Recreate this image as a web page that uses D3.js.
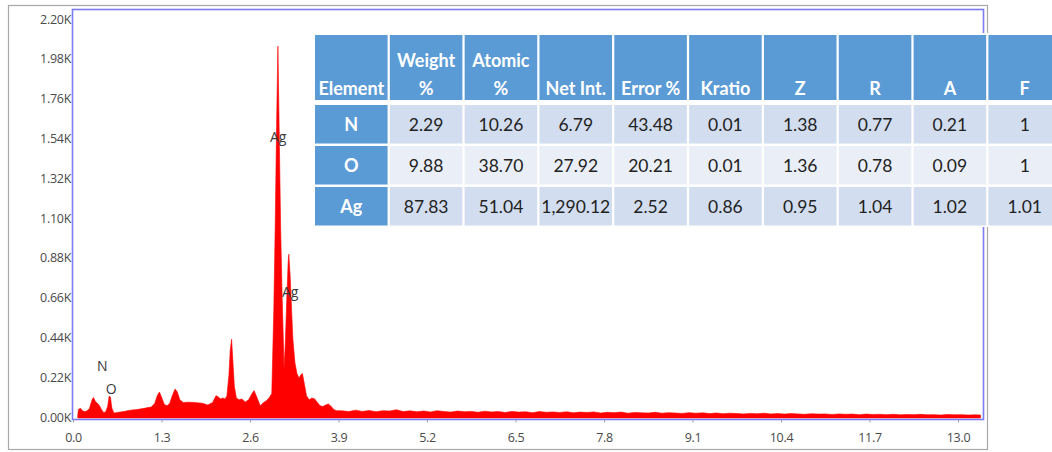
<!DOCTYPE html>
<html><head><meta charset="utf-8">
<script src="https://cdn.jsdelivr.net/npm/d3@7"></script>
<style>body{margin:0;background:#fff;} svg{display:block}</style>
</head><body>
<svg id="c" width="1052" height="452"></svg>
<script>
// ---------- data ----------
const yTicks = [0, 220, 440, 660, 880, 1100, 1320, 1540, 1760, 1980, 2200];
const yTickLabels = ["0.00K","0.22K","0.44K","0.66K","0.88K","1.10K","1.32K","1.54K","1.76K","1.98K","2.20K"];
const xTicks = [0, 1.3, 2.6, 3.9, 5.2, 6.5, 7.8, 9.1, 10.4, 11.7, 13.0];
const xTickLabels = ["0.0","1.3","2.6","3.9","5.2","6.5","7.8","9.1","10.4","11.7","13.0"];

const spectrumKeV = [
 0.07,0.08,0.11,0.14,0.17,0.20,0.24,0.28,0.30,0.33,0.36,0.39,0.42,0.45,0.48,0.51,0.53,0.55,0.57,0.60,
 0.65,0.70,0.75,0.80,0.85,0.90,0.95,1.00,1.05,1.10,1.15,1.20,1.24,1.27,1.30,1.34,1.38,1.42,1.46,1.50,
 1.53,1.57,1.62,1.70,1.79,1.90,1.98,2.05,2.10,2.13,2.17,2.20,2.23,2.26,2.29,2.31,2.33,2.35,2.37,2.40,
 2.44,2.48,2.53,2.58,2.63,2.66,2.70,2.75,2.80,2.84,2.88,2.92,2.95,2.97,2.99,3.01,3.03,3.05,3.07,3.09,
 3.10,3.12,3.14,3.16,3.17,3.19,3.21,3.23,3.26,3.29,3.32,3.35,3.37,3.40,3.43,3.47,3.51,3.55,3.59,3.63,
 3.67,3.71,3.75,3.79,3.83,3.87,
 3.95,4.05,4.15,4.25,4.35,4.45,4.55,4.65,4.75,4.85,4.95,5.05,5.15,5.25,5.35,5.45,5.55,5.65,5.75,5.85,
 5.95,6.05,6.15,6.25,6.35,6.45,6.55,6.65,6.75,6.85,6.95,7.05,7.15,7.25,7.35,7.45,7.55,7.65,7.75,7.85,
 7.95,8.05,8.15,8.25,8.35,8.45,8.55,8.65,8.75,8.85,8.95,9.05,9.15,9.25,9.35,9.45,9.55,9.65,9.75,9.85,
 9.95,10.05,10.15,10.25,10.35,10.45,10.55,10.65,10.75,10.85,10.95,11.05,11.15,11.25,11.35,11.45,11.55,11.65,11.75,11.85,
 11.95,12.05,12.15,12.25,12.35,12.45,12.55,12.65,12.75,12.85,12.95,13.05,13.15,13.25,13.33
];
const spectrumCounts = [
 10,42,48,35,30,33,45,95,108,85,75,62,40,25,28,60,115,110,50,22,
 25,28,30,35,38,40,42,45,48,52,55,75,120,138,110,70,62,75,120,155,
 140,95,80,82,80,76,66,80,118,112,100,105,100,115,230,370,430,300,170,105,
 95,100,83,95,130,146,110,62,80,90,105,130,600,1050,1600,2050,1550,1050,700,420,
 265,420,650,850,900,780,600,430,300,240,215,235,240,180,118,95,105,100,80,62,
 58,66,72,60,42,35,
 34,30,38,31,36,29,35,33,40,30,34,29,33,28,35,30,27,33,29,31,
 26,32,28,30,25,31,27,29,24,30,26,28,25,29,23,27,25,28,22,26,
 24,27,21,25,23,22,26,21,24,22,20,24,21,23,19,22,18,21,19,17,
 20,18,21,17,19,16,19,17,15,18,16,17,14,17,15,16,13,16,14,15,
 13,15,12,14,13,15,12,13,11,14,12,13,11,12,11
];

const peakLabels = ["N", "O", "Ag", "Ag"];
const peakLabelKeV = [0.43, 0.56, 3.015, 3.19];
const peakLabelCounts = [287, 160, 1550, 693];

const tableHeaders = [["Element"],["Weight","%"],["Atomic","%"],["Net Int."],["Error %"],["Kratio"],["Z"],["R"],["A"],["F"]];
const elements = ["N", "O", "Ag"];
const weightPct = [2.29, 9.88, 87.83];
const atomicPct = [10.26, 38.70, 51.04];
const netInt = [6.79, 27.92, 1290.12];
const errorPct = [43.48, 20.21, 2.52];
const kratio = [0.01, 0.01, 0.86];
const zCorr = [1.38, 1.36, 0.95];
const rCorr = [0.77, 0.78, 1.04];
const aCorr = [0.21, 0.09, 1.02];
const fCorr = [1, 1, 1.01];

// ---------- drawing ----------
const svg = d3.select("#c");
const font = "'Open Sans', 'DejaVu Sans', sans-serif";

// outer frame
svg.append("rect").attr("x", 8.5).attr("y", 5.5).attr("width", 979).attr("height", 444)
  .attr("fill", "#fff").attr("stroke", "#a8a8a8").attr("stroke-width", 1.2);

const x = d3.scaleLinear().domain([0, 13]).range([73, 958]);
const y = d3.scaleLinear().domain([0, 2200]).range([417, 19]);

// spectrum
const pts = spectrumKeV.map((k, i) => [k, spectrumCounts[i]]);
const area = d3.area().x(d => x(d[0])).y0(y(0) + 1).y1(d => y(d[1])).curve(d3.curveLinear);
svg.append("path").datum(pts).attr("d", area).attr("fill", "#ff0000").attr("stroke", "#ff0000").attr("stroke-width", 0.6);

// plot border
svg.append("rect").attr("x", 72.5).attr("y", 9.5).attr("width", 911).attr("height", 410)
  .attr("fill", "none").attr("stroke", "#7b7bf6").attr("stroke-width", 1.6);

// y axis
const yAxis = svg.append("g").attr("transform", "translate(72,0)")
  .call(d3.axisLeft(y).tickValues(yTicks).tickFormat((d, i) => yTickLabels[i]).tickSize(0).tickPadding(1));
yAxis.select(".domain").remove();
yAxis.selectAll("text").attr("font-family", font).attr("font-size", 12.5).attr("fill", "#4a4a4a").attr("letter-spacing", -0.3);

// x axis
const xAxis = svg.append("g").attr("transform", "translate(0,419.5)")
  .call(d3.axisBottom(x).tickValues(xTicks).tickFormat((d, i) => xTickLabels[i]).tickSize(3).tickPadding(11));
xAxis.select(".domain").remove();
xAxis.selectAll("line").attr("stroke", "#9a9ab0");
xAxis.selectAll("text").attr("font-family", font).attr("font-size", 12.5).attr("fill", "#4a4a4a").attr("letter-spacing", -0.3);

// peak labels
svg.append("g").selectAll("text").data(peakLabels).join("text")
  .attr("x", (d, i) => x(peakLabelKeV[i])).attr("y", (d, i) => y(peakLabelCounts[i]))
  .attr("text-anchor", "middle").attr("dominant-baseline", "central")
  .attr("font-family", font).attr("font-size", 14).attr("fill", "#3a3a3a")
  .text(d => d);

// ---------- table ----------
const tfont = "Lato, 'Open Sans', sans-serif";
const colX = d3.scaleBand().domain(d3.range(tableHeaders.length)).range([315, 1061]).paddingInner(0.03);
const rowY = d3.scaleBand().domain(d3.range(elements.length)).range([105, 225.5]).paddingInner(0.06);
const headTop = 35, headBottom = 100;

const tbl = svg.append("g");
tbl.append("rect").attr("x", 313).attr("y", 33).attr("width", 760).attr("height", 194).attr("fill", "#fff");

// header
const hd = tbl.selectAll("g.h").data(tableHeaders).join("g").attr("class", "h");
hd.append("rect").attr("x", (d, i) => colX(i)).attr("y", headTop)
  .attr("width", colX.bandwidth()).attr("height", headBottom - headTop).attr("fill", "#5b9bd5");
hd.each(function(lines, i) {
  const g = d3.select(this);
  lines.forEach((ln, j) => {
    g.append("text").attr("x", colX(i) + colX.bandwidth() / 2)
      .attr("y", 95 - (lines.length - 1 - j) * 28)
      .attr("text-anchor", "middle").attr("font-family", tfont).attr("font-weight", "bold")
      .attr("font-size", 18).attr("fill", "#fff").text(ln);
  });
});

// body
const cols = [weightPct, atomicPct, netInt, errorPct, kratio, zCorr, rCorr, aCorr, fCorr];
const fmts = [d3.format(".2f"), d3.format(".2f"), d3.format(",.2f"), d3.format(".2f"), d3.format(".2f"),
              d3.format(".2f"), d3.format(".2f"), d3.format(".2f"), d3.format("~g")];
elements.forEach((el, r) => {
  const yy = rowY(r), hh = rowY.bandwidth();
  tbl.append("rect").attr("x", colX(0)).attr("y", yy).attr("width", colX.bandwidth()).attr("height", hh).attr("fill", "#5b9bd5");
  tbl.append("text").attr("x", colX(0) + colX.bandwidth() / 2).attr("y", yy + hh / 2)
    .attr("text-anchor", "middle").attr("dominant-baseline", "central")
    .attr("font-family", tfont).attr("font-weight", "bold").attr("font-size", 18).attr("fill", "#fff").text(el);
  cols.forEach((arr, c) => {
    const ci = c + 1;
    tbl.append("rect").attr("x", colX(ci)).attr("y", yy).attr("width", colX.bandwidth()).attr("height", hh)
      .attr("fill", r % 2 === 0 ? "#d2deef" : "#eaeff7");
    tbl.append("text").attr("x", colX(ci) + colX.bandwidth() / 2).attr("y", yy + hh / 2)
      .attr("text-anchor", "middle").attr("dominant-baseline", "central")
      .attr("font-family", tfont).attr("font-size", 17.5).attr("fill", "#222").text(fmts[c](arr[r]));
  });
});
</script>
</body></html>
